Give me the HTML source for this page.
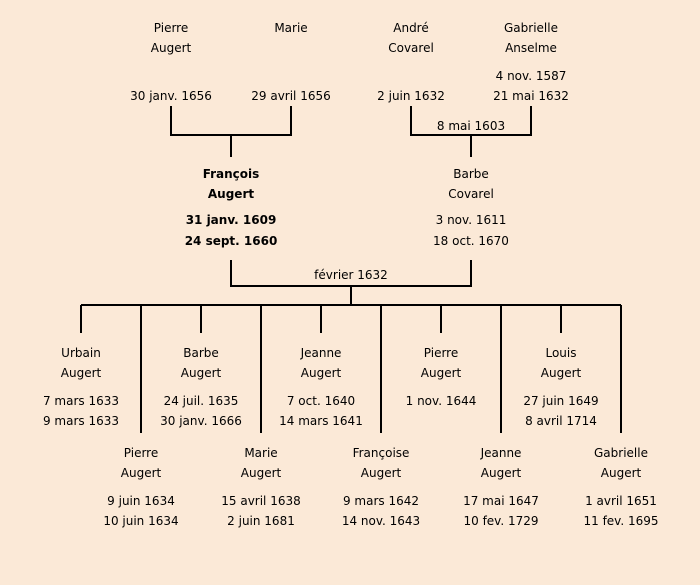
<!DOCTYPE html>
<html><head><meta charset="utf-8"><style>
html,body{margin:0;padding:0;background:#fbe9d7;}
svg{display:block}
text{font-family:"DejaVu Sans","Liberation Sans",sans-serif;font-size:12px;fill:#000;text-anchor:middle}
.b{font-weight:bold}
</style></head><body>
<svg width="700" height="585" viewBox="0 0 700 585">
<rect width="700" height="585" fill="#fbe9d7"/>
<g stroke="#000" stroke-width="2" fill="none">
<path d="M171 106V135H291V106M231 135V157"/>
<path d="M411 106V135H531V106M471 135V157"/>
<path d="M231 260V286H471V260M351 286V305"/>
<path d="M81 305H621"/>
<path d="M81 305V333M201 305V333M321 305V333M441 305V333M561 305V333"/>
<path d="M141 305V433M261 305V433M381 305V433M501 305V433M621 305V433"/>
</g>
<text x="171" y="32">Pierre</text><text x="171" y="52">Augert</text><text x="171" y="100">30 janv. 1656</text>
<text x="291" y="32">Marie</text><text x="291" y="100">29 avril 1656</text>
<text x="411" y="32">André</text><text x="411" y="52">Covarel</text><text x="411" y="100">2 juin 1632</text>
<text x="531" y="32">Gabrielle</text><text x="531" y="52">Anselme</text><text x="531" y="80">4 nov. 1587</text><text x="531" y="100">21 mai 1632</text>
<text x="471" y="130">8 mai 1603</text>
<text class="b" x="231" y="178">François</text><text class="b" x="231" y="198">Augert</text><text class="b" x="231" y="224">31 janv. 1609</text><text class="b" x="231" y="245">24 sept. 1660</text>
<text x="471" y="178">Barbe</text><text x="471" y="198">Covarel</text><text x="471" y="224">3 nov. 1611</text><text x="471" y="245">18 oct. 1670</text>
<text x="351" y="279">février 1632</text>
<text x="81" y="357">Urbain</text><text x="81" y="377">Augert</text><text x="81" y="405">7 mars 1633</text><text x="81" y="425">9 mars 1633</text>
<text x="201" y="357">Barbe</text><text x="201" y="377">Augert</text><text x="201" y="405">24 juil. 1635</text><text x="201" y="425">30 janv. 1666</text>
<text x="321" y="357">Jeanne</text><text x="321" y="377">Augert</text><text x="321" y="405">7 oct. 1640</text><text x="321" y="425">14 mars 1641</text>
<text x="441" y="357">Pierre</text><text x="441" y="377">Augert</text><text x="441" y="405">1 nov. 1644</text>
<text x="561" y="357">Louis</text><text x="561" y="377">Augert</text><text x="561" y="405">27 juin 1649</text><text x="561" y="425">8 avril 1714</text>
<text x="141" y="457">Pierre</text><text x="141" y="477">Augert</text><text x="141" y="505">9 juin 1634</text><text x="141" y="525">10 juin 1634</text>
<text x="261" y="457">Marie</text><text x="261" y="477">Augert</text><text x="261" y="505">15 avril 1638</text><text x="261" y="525">2 juin 1681</text>
<text x="381" y="457">Françoise</text><text x="381" y="477">Augert</text><text x="381" y="505">9 mars 1642</text><text x="381" y="525">14 nov. 1643</text>
<text x="501" y="457">Jeanne</text><text x="501" y="477">Augert</text><text x="501" y="505">17 mai 1647</text><text x="501" y="525">10 fev. 1729</text>
<text x="621" y="457">Gabrielle</text><text x="621" y="477">Augert</text><text x="621" y="505">1 avril 1651</text><text x="621" y="525">11 fev. 1695</text>
</svg>
</body></html>
